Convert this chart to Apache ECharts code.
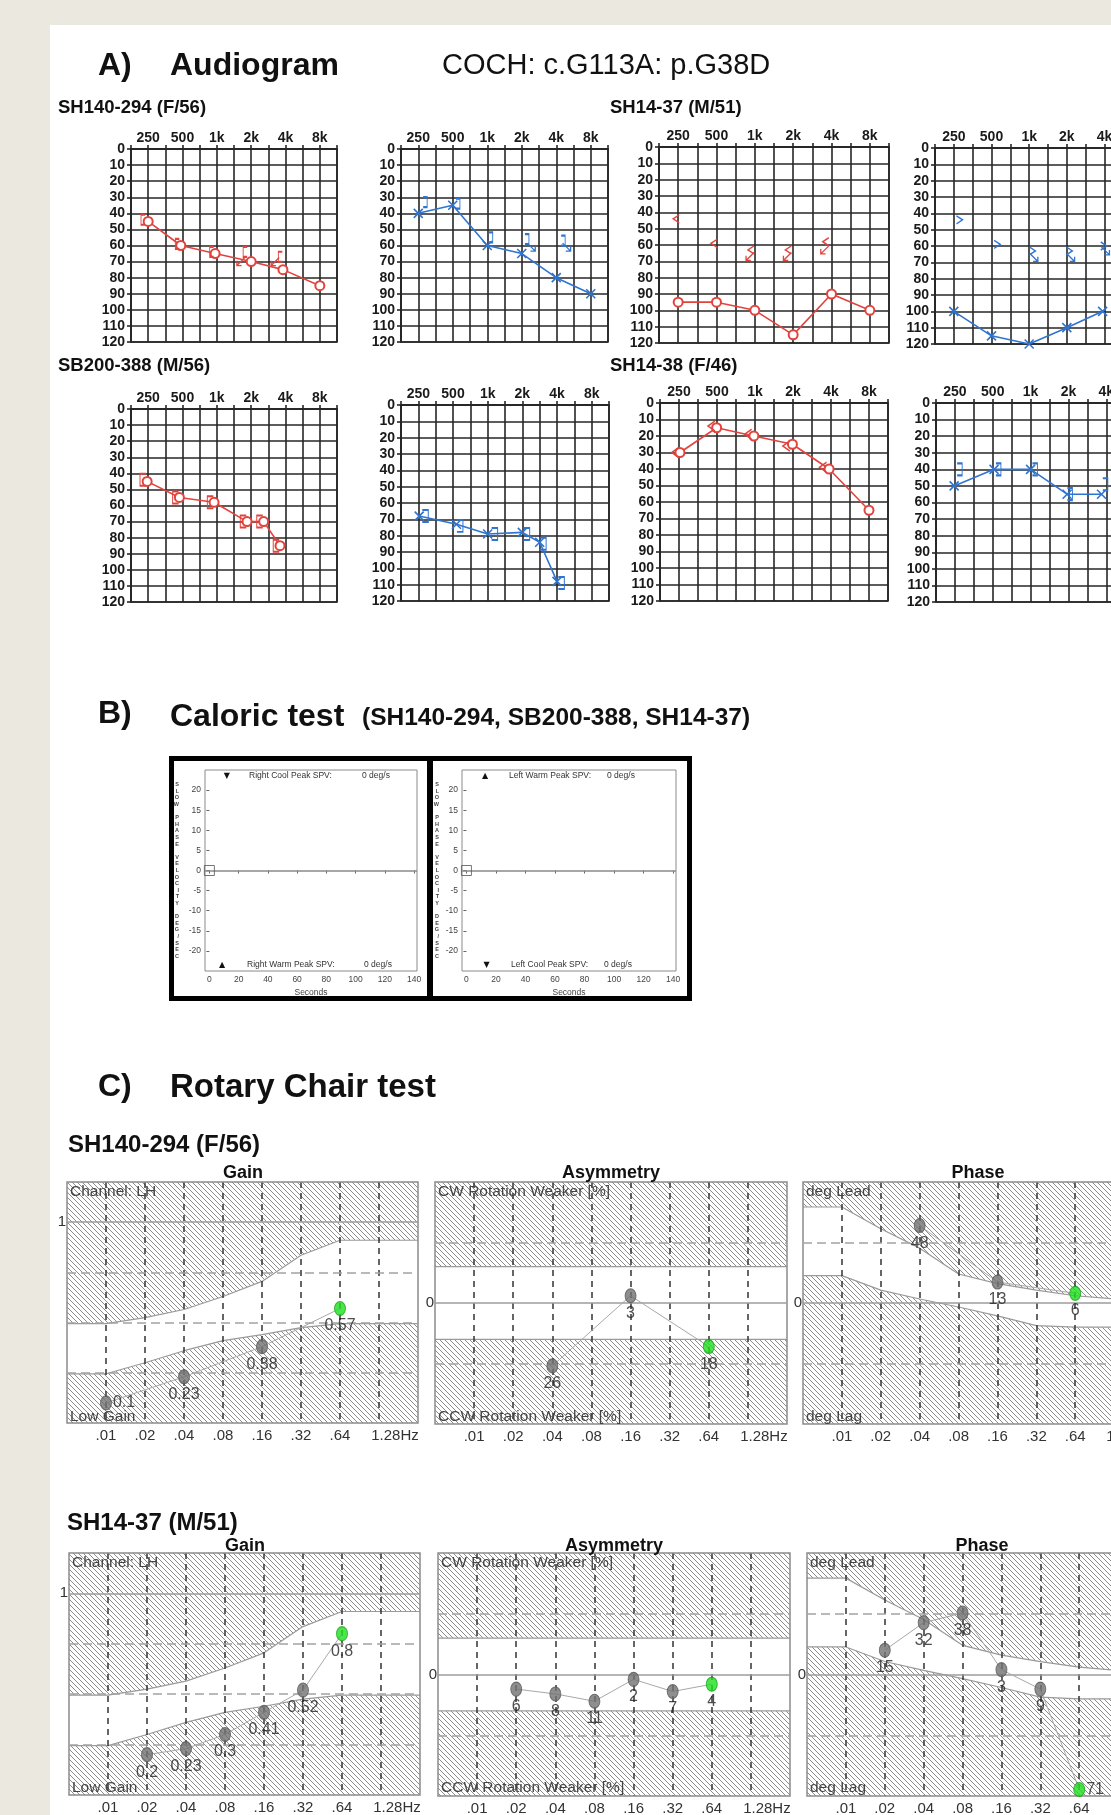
<!DOCTYPE html>
<html><head><meta charset="utf-8"><title>COCH c.G113A p.G38D</title>
<script src="https://cdn.jsdelivr.net/npm/echarts@6.0.0/dist/echarts.min.js"></script>
<style>html,body{margin:0;padding:0;background:#fff;}#chart{width:1111px;height:1815px;}</style>
</head><body><div id="chart"></div>
<script>
const FONT = "'Liberation Sans', Arial, Helvetica, sans-serif";

// ================= A) Audiogram data =================
// x = position on the half-octave frequency grid (250 Hz = 1, 500 = 3, 1k = 5, 2k = 7, 4k = 9, 8k = 11); y = dB HL
const audioFreqLabels = ['', '250', '', '500', '', '1k', '', '2k', '', '4k', '', '8k', ''];
// SH140-294 (F/56) right ear
const sh140R_airX  = [1, 2.9, 4.9, 7, 8.85, 11];
const sh140R_airY  = [45, 60, 65, 70, 75, 85];
const sh140R_boneX = [0.7, 2.7, 4.7, 6.65, 8.7];
const sh140R_boneY = [44, 59, 64, 64, 67];
const sh140R_nrX   = [6.4, 8.4];
const sh140R_nrY   = [70, 70];
// SH140-294 (F/56) left ear
const sh140L_airX  = [1, 3, 5, 7, 9, 11];
const sh140L_airY  = [40, 35, 60, 65, 80, 90];
const sh140L_boneX = [1.4, 3.3, 5.2, 7.3, 9.4];
const sh140L_boneY = [33, 34, 55, 56, 57];
const sh140L_nrX   = [7.55, 9.6];
const sh140L_nrY   = [61, 61];
// SH14-37 (M/51) right ear
const sh1437R_airX  = [1, 3, 5, 7, 9, 11];
const sh1437R_airY  = [95, 95, 100, 115, 90, 100];
const sh1437R_boneX = [0.9, 2.87, 4.8, 6.75, 8.7];
const sh1437R_boneY = [44, 59, 63, 63, 58];
const sh1437R_nrX   = [4.75, 6.7, 8.65];
const sh1437R_nrY   = [67, 67, 63];
// SH14-37 (M/51) left ear
const sh1437L_airX  = [1, 3, 5, 7, 8.9];
const sh1437L_airY  = [100, 115, 120, 110, 100];
const sh1437L_boneX = [1.3, 3.3, 5.17, 7.13, 8.96];
const sh1437L_boneY = [44, 59, 63, 63, 60];
const sh1437L_nrX   = [5.25, 7.2, 9.05];
const sh1437L_nrY   = [67, 67, 63];
// SB200-388 (M/56) right ear
const sb200R_airX  = [0.94, 2.82, 4.84, 6.76, 7.73, 8.68];
const sb200R_airY  = [45, 55, 58, 70, 70, 85];
const sb200R_boneX = [0.7, 2.6, 4.62, 6.54, 7.5, 8.46];
const sb200R_boneY = [44, 55, 58, 70, 70, 85];
// SB200-388 (M/56) left ear
const sb200L_airX  = [1.05, 3.2, 5, 7, 8, 9];
const sb200L_airY  = [68, 73, 79, 78, 84, 108];
const sb200L_boneX = [1.4, 3.4, 5.4, 7.25, 8.2, 9.25];
const sb200L_boneY = [68, 74, 79, 79, 85, 109];
// SH14-38 (F/46) right ear
const sh1438R_airX  = [1.05, 2.98, 4.94, 6.97, 8.9, 11];
const sh1438R_airY  = [30, 15, 20, 25, 40, 65];
const sh1438R_boneX = [0.8, 2.71, 4.64, 6.65, 8.58];
const sh1438R_boneY = [30, 14, 19, 26, 39];
// SH14-38 (F/46) left ear
const sh1438L_airX  = [0.96, 3.07, 5, 6.93, 8.75];
const sh1438L_airY  = [50, 40, 40, 55, 55];
const sh1438L_boneX = [1.25, 3.3, 5.23, 7.08, 8.95];
const sh1438L_boneY = [40, 40, 40, 55, 49];

// ================= B) Caloric test data =================
const calTimeTicks = [0, 20, 40, 60, 80, 100, 120, 140];
const calSpvTicks = [-20, -15, -10, -5, 0, 5, 10, 15, 20];
const calStart = [[0, 0]];               // trace start marker (s, deg/s)
const calPeakSPV = {rightCool: 0, rightWarm: 0, leftWarm: 0, leftCool: 0};

// ================= C) Rotary chair data =================
const rcFreqLabels = ['.01', '.02', '.04', '.08', '.16', '.32', '.64', '1.28Hz'];
// normal-range bands, sampled at these frequencies (Hz)
const bandFreq   = [0.005, 0.01, 0.02, 0.04, 0.08, 0.16, 0.32, 0.64, 1.28, 2.56];
const gainLow    = [0.245, 0.245, 0.30, 0.36, 0.41, 0.44, 0.475, 0.495, 0.495, 0.495];
const gainHigh   = [0.495, 0.495, 0.525, 0.565, 0.63, 0.705, 0.835, 0.91, 0.91, 0.91];
const asymLow    = [-15, -15, -15, -15, -15, -15, -15, -15, -15, -15];
const asymHigh   = [15, 15, 15, 15, 15, 15, 15, 15, 15, 15];
const phaseLow   = [17, 17, 8, 2.5, -2.5, -8, -14, -15, -15, -15];
const phaseHigh  = [59.5, 59.5, 46, 34, 18, 12, 8, 4.5, 2.5, 2];
// SH140-294 (F/56)
const sh140GainFreq  = [0.01, 0.04, 0.16, 0.64];
const sh140Gain      = [0.1, 0.23, 0.38, 0.57];
const sh140AsymFreq  = [0.04, 0.16, 0.64];
const sh140Asym      = [-26, 3, -18];      // + = CW weaker, - = CCW weaker
const sh140PhaseFreq = [0.04, 0.16, 0.64];
const sh140Phase     = [48, 13, 6];        // + = lead
// SH14-37 (M/51)
const sh1437Freq  = [0.02, 0.04, 0.08, 0.16, 0.32, 0.64];
const sh1437Gain  = [0.2, 0.23, 0.3, 0.41, 0.52, 0.8];
const sh1437Asym  = [-6, -8, -11, -2, -7, -4];
const sh1437Phase = [15, 32, 38, 3, -9, -71];
// reference levels
const gainDashed = [0.25, 0.5, 0.75], gainSolid = [1];
const asymDashed = [-25, 25], asymSolid = [0];
const phaseDashed = [-37.5, 37.5], phaseSolid = [0];

// ================= build =================
const RED = '#e2433d', BLUE = '#2f74d0';
const SYM = {
  cross: 'path://M0,0L10,10M10,0L0,10',
  lbr: 'path://M5,0L0,0L0,12L5,12',
  rbr: 'path://M0,0L5,0L5,12L0,12',
  lt: 'path://M7,0L0,5L7,10',
  gt: 'path://M0,0L7,5L0,10',
  arrDL: 'path://M10,0L0,10M0,4L0,10L6,10',
  arrDR: 'path://M0,0L10,10M10,4L10,10L4,10'
};

function makeHatch() {
  const s = 5, c = document.createElement('canvas');
  c.width = s; c.height = s;
  const g = c.getContext('2d');
  g.fillStyle = '#ffffff'; g.fillRect(0, 0, s, s);
  g.strokeStyle = '#8c8c8c'; g.lineWidth = 1;
  g.beginPath();
  [-s, 0, s].forEach(k => { g.moveTo(k, 0); g.lineTo(k + s, s); });
  g.stroke();
  return c;
}
const HATCH = {image: makeHatch(), repeat: 'repeat'};

const option = {
  backgroundColor: '#ffffff', animation: false,
  textStyle: {fontFamily: FONT},
  grid: [], xAxis: [], yAxis: [], series: [],
  graphic: {elements: []}
};
const G = option.graphic.elements;
function txt(x, y, text, size, o) {
  o = o || {};
  G.push({type: 'text', x: x, y: y, z: 100, silent: true,
    style: {text: text, fill: o.color || '#111', fontSize: size, fontWeight: o.weight || 'normal',
      fontFamily: o.family || FONT, textAlign: o.align || 'left', textVerticalAlign: o.valign || 'middle',
      align: o.align || 'left', verticalAlign: o.valign || 'middle'}});
}
const zip = (xs, ys) => xs.map((x, i) => [x, ys[i]]);

// ---- page background ----
G.push({type: 'rect', z: 0, silent: true, shape: {x: 0, y: 0, width: 1111, height: 25}, style: {fill: '#ebe8df'}});
G.push({type: 'rect', z: 0, silent: true, shape: {x: 0, y: 0, width: 50, height: 1815}, style: {fill: '#ebe8df'}});

// ---- audiograms ----
function addAudiogram(box, color, air, airSym, bone, boneSym, boneSize, nr, nrSym) {
  const gi = option.grid.length;
  const lineC = '#262626';
  option.grid.push(Object.assign({show: true, borderColor: lineC, borderWidth: 1.6, outerBoundsMode: 'none', containLabel: false}, box));
  option.xAxis.push({type: 'value', gridIndex: gi, position: 'top', min: 0, max: 12, interval: 1,
    axisLine: {show: true, lineStyle: {color: lineC, width: 1.6}},
    axisTick: {show: true, length: 4, lineStyle: {color: lineC, width: 1.6}},
    axisLabel: {margin: 4, fontSize: 14, fontWeight: 'bold', color: '#1a1a1a', fontFamily: FONT,
      formatter: v => audioFreqLabels[Math.round(v)] || ''},
    splitLine: {show: true, lineStyle: {color: lineC, width: 1.6}}});
  option.yAxis.push({type: 'value', gridIndex: gi, inverse: true, min: 0, max: 120, interval: 10,
    axisLine: {show: true, lineStyle: {color: lineC, width: 1.6}},
    axisTick: {show: true, length: 4, lineStyle: {color: lineC, width: 1.6}},
    axisLabel: {margin: 6, fontSize: 14, fontWeight: 'bold', color: '#1a1a1a', fontFamily: FONT},
    splitLine: {show: true, lineStyle: {color: lineC, width: 1.6}}});
  const isCircle = airSym === 'emptyCircle';
  option.series.push({type: 'line', xAxisIndex: gi, yAxisIndex: gi, silent: true, z: 5,
    data: zip(air[0], air[1]), symbol: airSym, symbolSize: 9, showAllSymbol: true,
    lineStyle: {color: color, width: 1.6},
    itemStyle: {color: isCircle ? color : 'none', borderColor: color, borderWidth: 1.6}});
  if (bone) option.series.push({type: 'scatter', xAxisIndex: gi, yAxisIndex: gi, silent: true, z: 6,
    data: zip(bone[0], bone[1]), symbol: boneSym, symbolSize: boneSize,
    itemStyle: {color: 'none', borderColor: color, borderWidth: 1.4, opacity: 1}});
  if (nr) option.series.push({type: 'scatter', xAxisIndex: gi, yAxisIndex: gi, silent: true, z: 6,
    data: zip(nr[0], nr[1]), symbol: nrSym, symbolSize: 8,
    itemStyle: {color: 'none', borderColor: color, borderWidth: 1.3, opacity: 1}});
}
addAudiogram({left: 131, top: 149, width: 206, height: 193}, RED, [sh140R_airX, sh140R_airY], 'emptyCircle',
  [sh140R_boneX, sh140R_boneY], SYM.lbr, [4, 10], [sh140R_nrX, sh140R_nrY], SYM.arrDL);
addAudiogram({left: 401, top: 149, width: 207, height: 193}, BLUE, [sh140L_airX, sh140L_airY], SYM.cross,
  [sh140L_boneX, sh140L_boneY], SYM.rbr, [4, 10], [sh140L_nrX, sh140L_nrY], SYM.arrDR);
addAudiogram({left: 659, top: 147, width: 230, height: 196}, RED, [sh1437R_airX, sh1437R_airY], 'emptyCircle',
  [sh1437R_boneX, sh1437R_boneY], SYM.lt, [6, 8], [sh1437R_nrX, sh1437R_nrY], SYM.arrDL);
addAudiogram({left: 935, top: 148, width: 226, height: 196}, BLUE, [sh1437L_airX, sh1437L_airY], SYM.cross,
  [sh1437L_boneX, sh1437L_boneY], SYM.gt, [6, 8], [sh1437L_nrX, sh1437L_nrY], SYM.arrDR);
addAudiogram({left: 131, top: 409, width: 206, height: 193}, RED, [sb200R_airX, sb200R_airY], 'emptyCircle',
  [sb200R_boneX, sb200R_boneY], SYM.lbr, [6, 12], null, null);
addAudiogram({left: 401, top: 405, width: 208, height: 196}, BLUE, [sb200L_airX, sb200L_airY], SYM.cross,
  [sb200L_boneX, sb200L_boneY], SYM.rbr, [6, 12], null, null);
addAudiogram({left: 660, top: 403, width: 228, height: 198}, RED, [sh1438R_airX, sh1438R_airY], 'emptyCircle',
  [sh1438R_boneX, sh1438R_boneY], SYM.lt, [7, 10], null, null);
addAudiogram({left: 936, top: 403, width: 227, height: 199}, BLUE, [sh1438L_airX, sh1438L_airY], SYM.cross,
  [sh1438L_boneX, sh1438L_boneY], SYM.rbr, [5, 12], null, null);

// ---- caloric plots ----
function addCaloric(box, nameGap) {
  const gi = option.grid.length;
  option.grid.push(Object.assign({show: true, borderColor: '#8a8a8a', borderWidth: 1, outerBoundsMode: 'none', containLabel: false}, box));
  option.xAxis.push({type: 'value', gridIndex: gi, min: -3, max: 142,
    name: 'Seconds', nameLocation: 'middle', nameGap: 17, nameTextStyle: {fontSize: 8.5, color: '#444'},
    axisLine: {show: false}, splitLine: {show: false},
    axisTick: {show: true, length: 3, customValues: calTimeTicks, lineStyle: {color: '#666'}},
    axisLabel: {margin: 4, fontSize: 8.5, color: '#444', customValues: calTimeTicks}});
  option.yAxis.push({type: 'value', gridIndex: gi, min: -25, max: 25, interval: 5,
    name: 'SLOW PHASE VELOCITY DEG/SEC'.split('').join('\n'), nameLocation: 'middle', nameRotate: 0, nameGap: nameGap,
    nameTextStyle: {fontSize: 5.5, lineHeight: 6.6, color: '#444', fontWeight: 'bold'},
    axisLine: {show: false}, splitLine: {show: false},
    axisTick: {show: true, length: 3, customValues: calSpvTicks, lineStyle: {color: '#666'}},
    axisLabel: {margin: 4, fontSize: 8.5, color: '#444', customValues: calSpvTicks}});
  option.series.push({type: 'scatter', xAxisIndex: gi, yAxisIndex: gi, silent: true, z: 5,
    data: calStart, symbol: 'rect', symbolSize: 10,
    itemStyle: {color: 'rgba(255,255,255,0)', borderColor: '#555', borderWidth: 1},
    markLine: {silent: true, symbol: ['none', 'none'], label: {show: false},
      lineStyle: {color: '#8a8a8a', width: 1.5, type: 'solid'}, data: [{yAxis: 0}]}});
}
addCaloric({left: 205, top: 770, width: 212, height: 201}, 26);
addCaloric({left: 462, top: 770, width: 214, height: 201}, 23);
G.push({type: 'rect', z: 1, silent: true, shape: {x: 171.5, y: 758.5, width: 518, height: 240}, style: {fill: 'none', stroke: '#000', lineWidth: 5}});
G.push({type: 'rect', z: 1, silent: true, shape: {x: 427, y: 758, width: 6, height: 241}, style: {fill: '#000'}});
txt(226.8, 776, '▼', 8, {family: 'DejaVu Sans', align: 'center'});
txt(249, 776, 'Right Cool Peak SPV:', 8.5, {color: '#333'});
txt(362, 776, calPeakSPV.rightCool + ' deg/s', 8.5, {color: '#333'});
txt(222, 965, '▲', 8, {family: 'DejaVu Sans', align: 'center'});
txt(247, 965, 'Right Warm Peak SPV:', 8.5, {color: '#333'});
txt(364, 965, calPeakSPV.rightWarm + ' deg/s', 8.5, {color: '#333'});
txt(485, 776, '▲', 8, {family: 'DejaVu Sans', align: 'center'});
txt(509, 776, 'Left Warm Peak SPV:', 8.5, {color: '#333'});
txt(607, 776, calPeakSPV.leftWarm + ' deg/s', 8.5, {color: '#333'});
txt(486.5, 965, '▼', 8, {family: 'DejaVu Sans', align: 'center'});
txt(511, 965, 'Left Cool Peak SPV:', 8.5, {color: '#333'});
txt(604, 965, calPeakSPV.leftCool + ' deg/s', 8.5, {color: '#333'});

// ---- rotary chair panels ----
const toIdx = f => Math.log2(f / 0.01);
function addRC(box, yMin, yMax, yInt, yLabelVal, bandLo, bandHi, dashed, solid, freqs, vals, fmt, rightIdx) {
  const gi = option.grid.length;
  option.grid.push(Object.assign({show: true, borderColor: '#8c8c8c', borderWidth: 1.5, backgroundColor: 'transparent', z: 5,
    outerBoundsMode: 'none', containLabel: false}, box));
  option.xAxis.push({type: 'value', gridIndex: gi, min: -1, max: 8, interval: 1, z: 4,
    axisLine: {show: false}, axisTick: {show: false},
    axisLabel: {margin: 5, fontSize: 15, color: '#333',
      formatter: v => (v >= 0 && v <= 6) ? rcFreqLabels[v] : (v === 7 ? '{hz|' + rcFreqLabels[7] + '}' : ''),
      rich: {hz: {fontSize: 15, color: '#333', fontFamily: FONT, padding: [0, 0, 0, 32]}}},
    splitLine: {show: true, showMinLine: false, showMaxLine: false, lineStyle: {color: '#333', width: 1.5, type: [6, 5]}}});
  option.yAxis.push({type: 'value', gridIndex: gi, min: yMin, max: yMax, interval: yInt,
    axisLine: {show: false}, axisTick: {show: false}, splitLine: {show: false},
    axisLabel: {margin: 1, fontSize: 15, color: '#333', formatter: v => Math.abs(v - yLabelVal) < 1e-9 ? String(yLabelVal) : ''}});
  const bx = bandFreq.map(toIdx);
  const common = {type: 'line', xAxisIndex: gi, yAxisIndex: gi, silent: true, symbol: 'none', z: 1};
  option.series.push(Object.assign({}, common, {data: [[bx[0], yMax], [bx[bx.length - 1], yMax]],
    lineStyle: {width: 0}, areaStyle: {color: HATCH, origin: 'start', opacity: 1}}));
  option.series.push(Object.assign({}, common, {data: zip(bx, bandHi),
    lineStyle: {color: '#9a9a9a', width: 1.2}, areaStyle: {color: '#ffffff', origin: 'start', opacity: 1}}));
  option.series.push(Object.assign({}, common, {data: zip(bx, bandLo),
    lineStyle: {color: '#9a9a9a', width: 1.2}, areaStyle: {color: HATCH, origin: 'start', opacity: 1}}));
  const px = freqs.map(toIdx);
  option.series.push({type: 'line', xAxisIndex: gi, yAxisIndex: gi, silent: true, symbol: 'none', z: 5,
    data: zip(px, vals), lineStyle: {color: '#a8a8a8', width: 1},
    markLine: {silent: true, symbol: ['none', 'none'], label: {show: false},
      data: dashed.map(v => ({yAxis: v, lineStyle: {type: [9, 5], color: '#a3a3a3', width: 1.5}}))
        .concat(solid.map(v => ({yAxis: v, lineStyle: {type: 'solid', color: '#9c9c9c', width: 1.5}})))}});
  const last = vals.length - 1;
  option.series.push({type: 'scatter', xAxisIndex: gi, yAxisIndex: gi, silent: true, z: 6,
    symbol: 'circle', symbolSize: [11, 14],
    label: {show: true, position: 'bottom', distance: 2, fontSize: 16, color: '#222', fontFamily: FONT,
      formatter: p => fmt(p.value[1])},
    data: px.map((x, k) => {
      const d = {value: [x, vals[k]],
        itemStyle: k === last ? {color: '#1ee01e', borderColor: '#17a317', borderWidth: 1}
                              : {color: '#727272', borderColor: '#585858', borderWidth: 1}};
      if (rightIdx.indexOf(k) >= 0) d.label = {position: 'right', distance: 1};
      return d;
    })});
}
const fmtGain = v => String(v), fmtAbs = v => String(Math.abs(v));
addRC({left: 67, top: 1182, width: 351, height: 241}, 0, 1.2, 0.25, 1, gainLow, gainHigh, gainDashed, gainSolid,
  sh140GainFreq, sh140Gain, fmtGain, [0]);
addRC({left: 435, top: 1182, width: 352, height: 242}, -50, 50, 25, 0, asymLow, asymHigh, asymDashed, asymSolid,
  sh140AsymFreq, sh140Asym, fmtAbs, []);
addRC({left: 803, top: 1182, width: 350, height: 242}, -75, 75, 37.5, 0, phaseLow, phaseHigh, phaseDashed, phaseSolid,
  sh140PhaseFreq, sh140Phase, fmtAbs, []);
addRC({left: 69, top: 1553, width: 351, height: 242}, 0, 1.2, 0.25, 1, gainLow, gainHigh, gainDashed, gainSolid,
  sh1437Freq, sh1437Gain, fmtGain, []);
addRC({left: 438, top: 1553, width: 352, height: 243}, -50, 50, 25, 0, asymLow, asymHigh, asymDashed, asymSolid,
  sh1437Freq, sh1437Asym, fmtAbs, []);
addRC({left: 807, top: 1553, width: 350, height: 243}, -75, 75, 37.5, 0, phaseLow, phaseHigh, phaseDashed, phaseSolid,
  sh1437Freq, sh1437Phase, fmtAbs, [5]);

// ---- texts ----
txt(98, 66, 'A)', 32, {weight: 'bold'});
txt(170, 66, 'Audiogram', 32, {weight: 'bold'});
txt(442, 66, 'COCH: c.G113A: p.G38D', 29, {});
txt(58, 108, 'SH140-294 (F/56)', 18.5, {weight: 'bold'});
txt(610, 108, 'SH14-37 (M/51)', 18.5, {weight: 'bold'});
txt(58, 366, 'SB200-388 (M/56)', 18.5, {weight: 'bold'});
txt(610, 366, 'SH14-38 (F/46)', 18.5, {weight: 'bold'});
txt(98, 714, 'B)', 32, {weight: 'bold'});
txt(170, 717, 'Caloric test', 32, {weight: 'bold'});
txt(362, 718, '(SH140-294, SB200-388, SH14-37)', 24.5, {weight: 'bold'});
txt(98, 1087, 'C)', 32, {weight: 'bold'});
txt(170, 1088, 'Rotary Chair test', 33, {weight: 'bold'});
txt(68, 1145, 'SH140-294 (F/56)', 24, {weight: 'bold'});
txt(67, 1523, 'SH14-37 (M/51)', 24, {weight: 'bold'});
[[1173, 1182, 435, 803], [1546, 1553, 438, 807]].forEach((r, i) => {
  const gl = i === 0 ? 67 : 69;
  txt(gl + 176, r[0], 'Gain', 18, {weight: 'bold', align: 'center'});
  txt(r[2] + 176, r[0], 'Asymmetry', 18, {weight: 'bold', align: 'center'});
  txt(r[3] + 175, r[0], 'Phase', 18, {weight: 'bold', align: 'center'});
  const top = r[1], bot = r[1] + 242;
  txt(gl + 3, top + 10, 'Channel: LH', 15.5, {color: '#444'});
  txt(gl + 3, bot - 7, 'Low Gain', 15.5, {color: '#444'});
  txt(r[2] + 3, top + 10, 'CW Rotation Weaker [%]', 15.5, {color: '#444'});
  txt(r[2] + 3, bot - 7, 'CCW Rotation Weaker [%]', 15.5, {color: '#444'});
  txt(r[3] + 3, top + 10, 'deg Lead', 15.5, {color: '#444'});
  txt(r[3] + 3, bot - 7, 'deg Lag', 15.5, {color: '#444'});
});

const chart = echarts.init(document.getElementById('chart'), null, {renderer: 'canvas', width: 1111, height: 1815});
chart.setOption(option);
</script></body></html>
